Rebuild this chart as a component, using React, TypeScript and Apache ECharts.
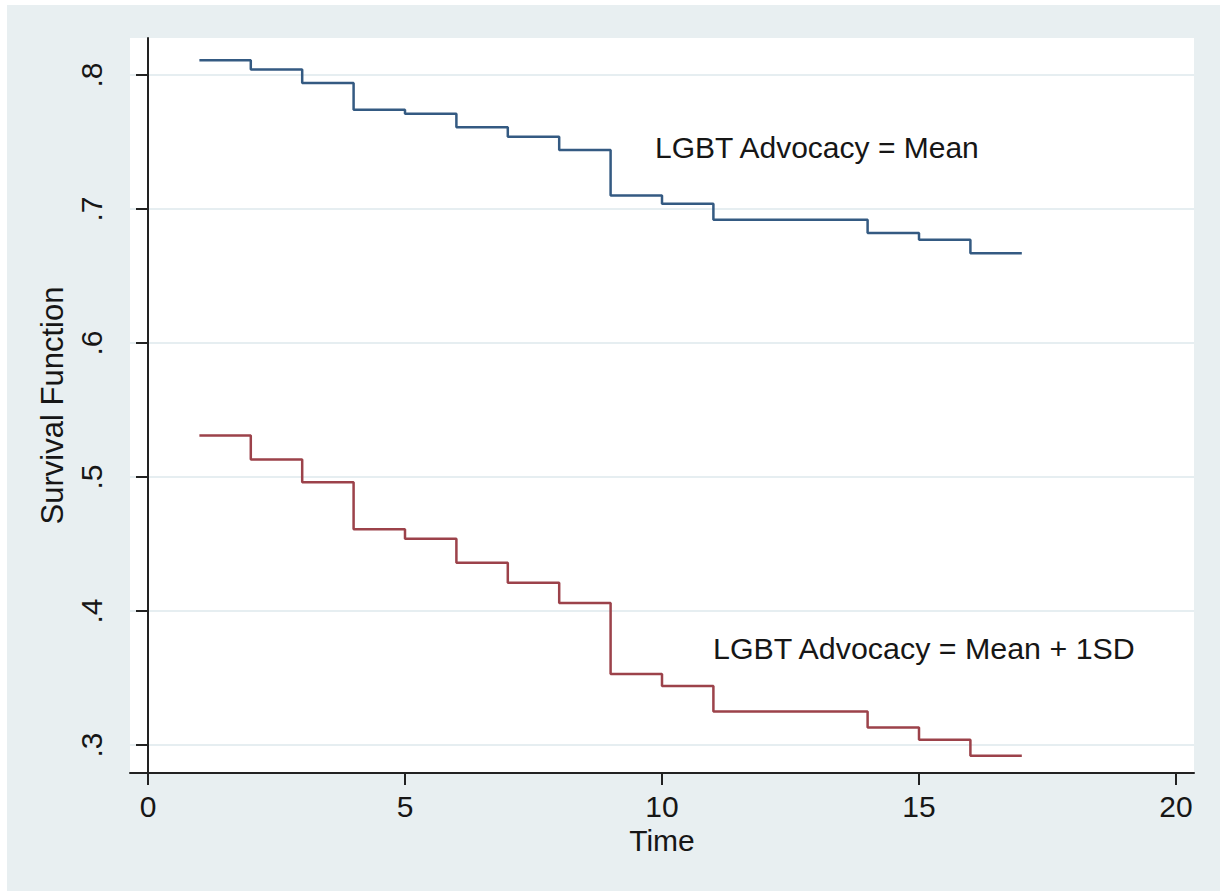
import React, { useEffect, useRef } from "react";
import * as echarts from "echarts";

const times = [1, 2, 3, 4, 5, 6, 7, 8, 9, 10, 11, 12, 13, 14, 15, 16, 17];
const survivalMean = [0.811, 0.804, 0.794, 0.774, 0.771, 0.761, 0.754, 0.744, 0.71, 0.704, 0.692, 0.692, 0.692, 0.682, 0.677, 0.667, 0.667];
const survivalMeanPlus1SD = [0.531, 0.513, 0.496, 0.461, 0.454, 0.436, 0.421, 0.406, 0.353, 0.344, 0.325, 0.325, 0.325, 0.313, 0.304, 0.292, 0.292];
const xTicks = [0, 5, 10, 15, 20];
const yTicks = [0.3, 0.4, 0.5, 0.6, 0.7, 0.8];
const labelMean = "LGBT Advocacy = Mean";
const labelSD = "LGBT Advocacy = Mean + 1SD";
const xTitle = "Time";
const yTitle = "Survival Function";

const FONT = "'Liberation Sans', Arial, sans-serif";
const TEXT = "#161616";

export default function App() {
  const ref = useRef<HTMLDivElement>(null);
  useEffect(() => {
    if (!ref.current) return;
    const chart = echarts.init(ref.current, undefined, { renderer: "svg" });
    const axisLine = { show: true, lineStyle: { color: "#222", width: 2 } };
    const axisTickBase = { show: true, length: 12, lineStyle: { color: "#222", width: 2 } };
    chart.setOption({
      animation: false,
      backgroundColor: "#ffffff",
      textStyle: { fontFamily: FONT },
      graphic: [
        {
          type: "rect",
          z: -10,
          silent: true,
          shape: { x: 7, y: 5, width: 1213, height: 886 },
          style: { fill: "#e8eff1" },
        },
        {
          type: "text",
          x: 655,
          y: 147,
          style: { text: labelMean, font: `30px ${FONT}`, fill: TEXT, textVerticalAlign: "middle" },
        },
        {
          type: "text",
          x: 713,
          y: 648,
          style: { text: labelSD, font: `30.4px ${FONT}`, fill: TEXT, textVerticalAlign: "middle" },
        },
      ],
      grid: {
        left: 130,
        top: 38,
        right: 26,
        bottom: 118,
        show: true,
        backgroundColor: "#ffffff",
        borderWidth: 0,
      },
      xAxis: {
        type: "value",
        min: -0.35,
        max: 20.35,
        axisLine,
        axisTick: { ...axisTickBase, customValues: xTicks },
        axisLabel: {
          customValues: xTicks,
          fontSize: 30,
          color: TEXT,
          margin: 18,
          fontFamily: FONT,
        },
        splitLine: { show: false },
        name: xTitle,
        nameLocation: "middle",
        nameGap: 44,
        nameTextStyle: { fontSize: 30, color: TEXT, fontFamily: FONT },
      },
      yAxis: {
        type: "value",
        min: 0.2791,
        max: 0.8276,
        axisLine,
        axisTick: { ...axisTickBase, customValues: yTicks },
        axisLabel: {
          customValues: yTicks,
          rotate: 90,
          fontSize: 30,
          color: TEXT,
          margin: 24,
          fontFamily: FONT,
          formatter: (v: number) => v.toFixed(1).replace(/^0/, ""),
        },
        splitLine: { show: true, lineStyle: { color: "#e6eef1", width: 2 } },
        name: yTitle,
        nameLocation: "middle",
        nameGap: 62,
        nameRotate: 90,
        nameTextStyle: { fontSize: 31, color: TEXT, fontFamily: FONT },
      },
      series: [
        {
          type: "line",
          step: "end",
          showSymbol: false,
          data: times.map((t, i) => [t, survivalMean[i]]),
          lineStyle: { color: "#345a82", width: 2.5 },
          itemStyle: { color: "#345a82" },
        },
        {
          type: "line",
          step: "end",
          showSymbol: false,
          data: times.map((t, i) => [t, survivalMeanPlus1SD[i]]),
          lineStyle: { color: "#9c424a", width: 2.5 },
          itemStyle: { color: "#9c424a" },
        },
      ],
    });
    return () => chart.dispose();
  }, []);
  return (
    <div
      ref={ref}
      style={{ position: "fixed", left: 0, top: 0, width: 1220, height: 891, background: "#fff" }}
    />
  );
}
